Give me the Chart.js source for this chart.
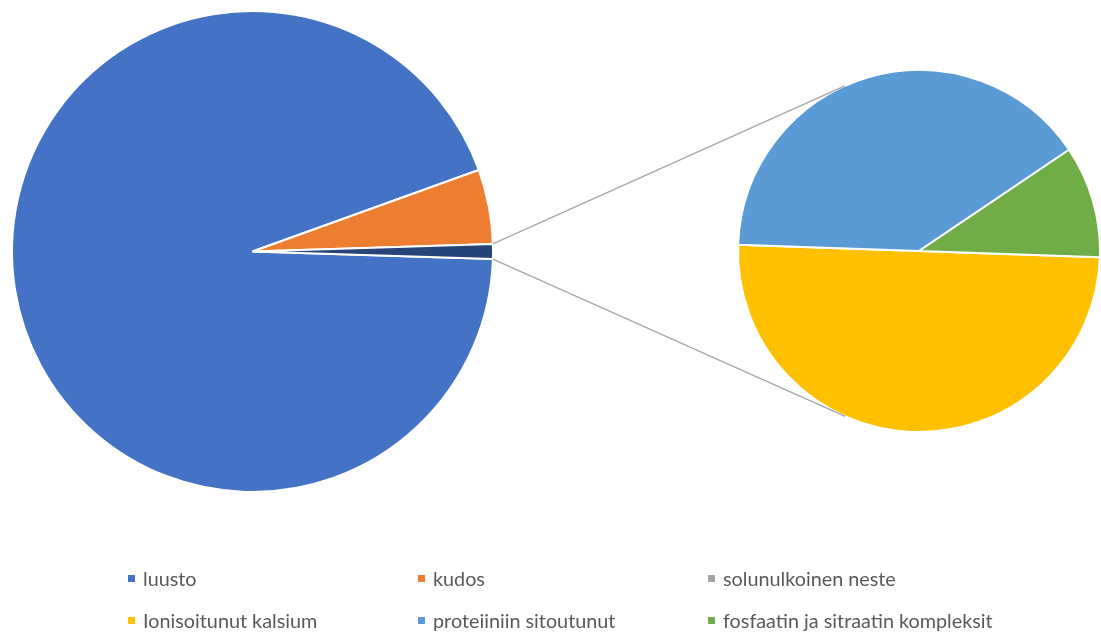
<!DOCTYPE html>
<html>
<head>
<meta charset="utf-8">
<script src="https://cdn.jsdelivr.net/npm/chart.js@4.4.1/dist/chart.umd.min.js"></script>
<style>
  html, body { margin: 0; padding: 0; background: #fff; }
  #wrap { position: relative; width: 1101px; height: 632px; overflow: hidden; }
  #wrap canvas { position: absolute; left: 0; top: 0; }
  .lg { position: absolute; font-family: Lato, "Open Sans", sans-serif; font-size: 19.8px; color: #595959; white-space: nowrap; line-height: 20px; }
  .lg i { position: absolute; width: 7px; height: 7px; left: -15px; top: 7px; }
</style>
</head>
<body>
<div id="wrap">
  <canvas id="left" width="1101" height="632"></canvas>
  <canvas id="right" width="1101" height="632"></canvas>
</div>
<script>
// ---- data ----
const mainLabels = ['luusto', 'kudos', 'solunulkoinen neste'];
const mainValues = [94, 5, 1];
const mainColors = ['#4472C4', '#ED7D31', '#264478'];

const subLabels = ['Ionisoitunut kalsium', 'proteiiniin sitoutunut', 'fosfaatin ja sitraatin kompleksit'];
const subValues = [50, 40, 10];
const subColors = ['#FFC000', '#5B9BD5', '#70AD47'];

const legendLabels = ['luusto', 'kudos', 'solunulkoinen neste', 'Ionisoitunut kalsium', 'proteiiniin sitoutunut', 'fosfaatin ja sitraatin kompleksit'];
const legendColors = ['#4472C4', '#ED7D31', '#A5A5A5', '#FFC000', '#5B9BD5', '#70AD47'];

// ---- charts ----
const mainTotal = mainValues.reduce((a, b) => a + b, 0);
const mainRotation = 90 + 180 * mainValues[mainValues.length - 1] / mainTotal;

const common = {
  responsive: false,
  animation: false,
  plugins: { legend: { display: false }, tooltip: { enabled: false } }
};

const leftChart = new Chart(document.getElementById('left'), {
  type: 'pie',
  data: {
    labels: mainLabels,
    datasets: [{ data: mainValues, backgroundColor: mainColors, borderColor: '#ffffff', borderWidth: 2 }]
  },
  options: Object.assign({}, common, {
    rotation: mainRotation,
    layout: { padding: { left: 11, top: 10, right: 607, bottom: 139 } }
  })
});

const connectors = {
  id: 'connectors',
  afterDraw(chart) {
    const la = leftChart.getDatasetMeta(0).data[mainValues.length - 1];
    const ra = chart.getDatasetMeta(0).data[0];
    const R = la.outerRadius, cx = ra.x, cy = ra.y, r = ra.outerRadius;
    const ctx = chart.ctx;
    ctx.save();
    ctx.strokeStyle = '#A6A6A6';
    ctx.lineWidth = 1.3;
    [la.startAngle, la.endAngle].forEach((ang) => {
      const px = la.x + R * Math.cos(ang), py = la.y + R * Math.sin(ang);
      const d = Math.hypot(px - cx, py - cy);
      const phi = Math.atan2(py - cy, px - cx);
      const a = Math.acos(r / d);
      const t = (py < la.y) ? phi + a : phi - a;
      ctx.beginPath();
      ctx.moveTo(px, py);
      ctx.lineTo(cx + r * Math.cos(t), cy + r * Math.sin(t));
      ctx.stroke();
    });
    ctx.restore();
  }
};

const rightChart = new Chart(document.getElementById('right'), {
  type: 'pie',
  data: {
    labels: subLabels,
    datasets: [{ data: subValues, backgroundColor: subColors, borderColor: '#ffffff', borderWidth: 2 }]
  },
  options: Object.assign({}, common, {
    rotation: 92,
    layout: { padding: { left: 737, top: 69, right: 0, bottom: 199 } }
  }),
  plugins: [connectors]
});

// ---- legend ----
const wrap = document.getElementById('wrap');
const colX = [143, 433, 723];
const rowY = [568, 610];
legendLabels.forEach((lab, i) => {
  const d = document.createElement('div');
  d.className = 'lg';
  d.style.left = colX[i % 3] + 'px';
  d.style.top = rowY[Math.floor(i / 3)] + 'px';
  const m = document.createElement('i');
  m.style.background = legendColors[i];
  d.appendChild(m);
  d.appendChild(document.createTextNode(lab));
  wrap.appendChild(d);
});
</script>
</body>
</html>
